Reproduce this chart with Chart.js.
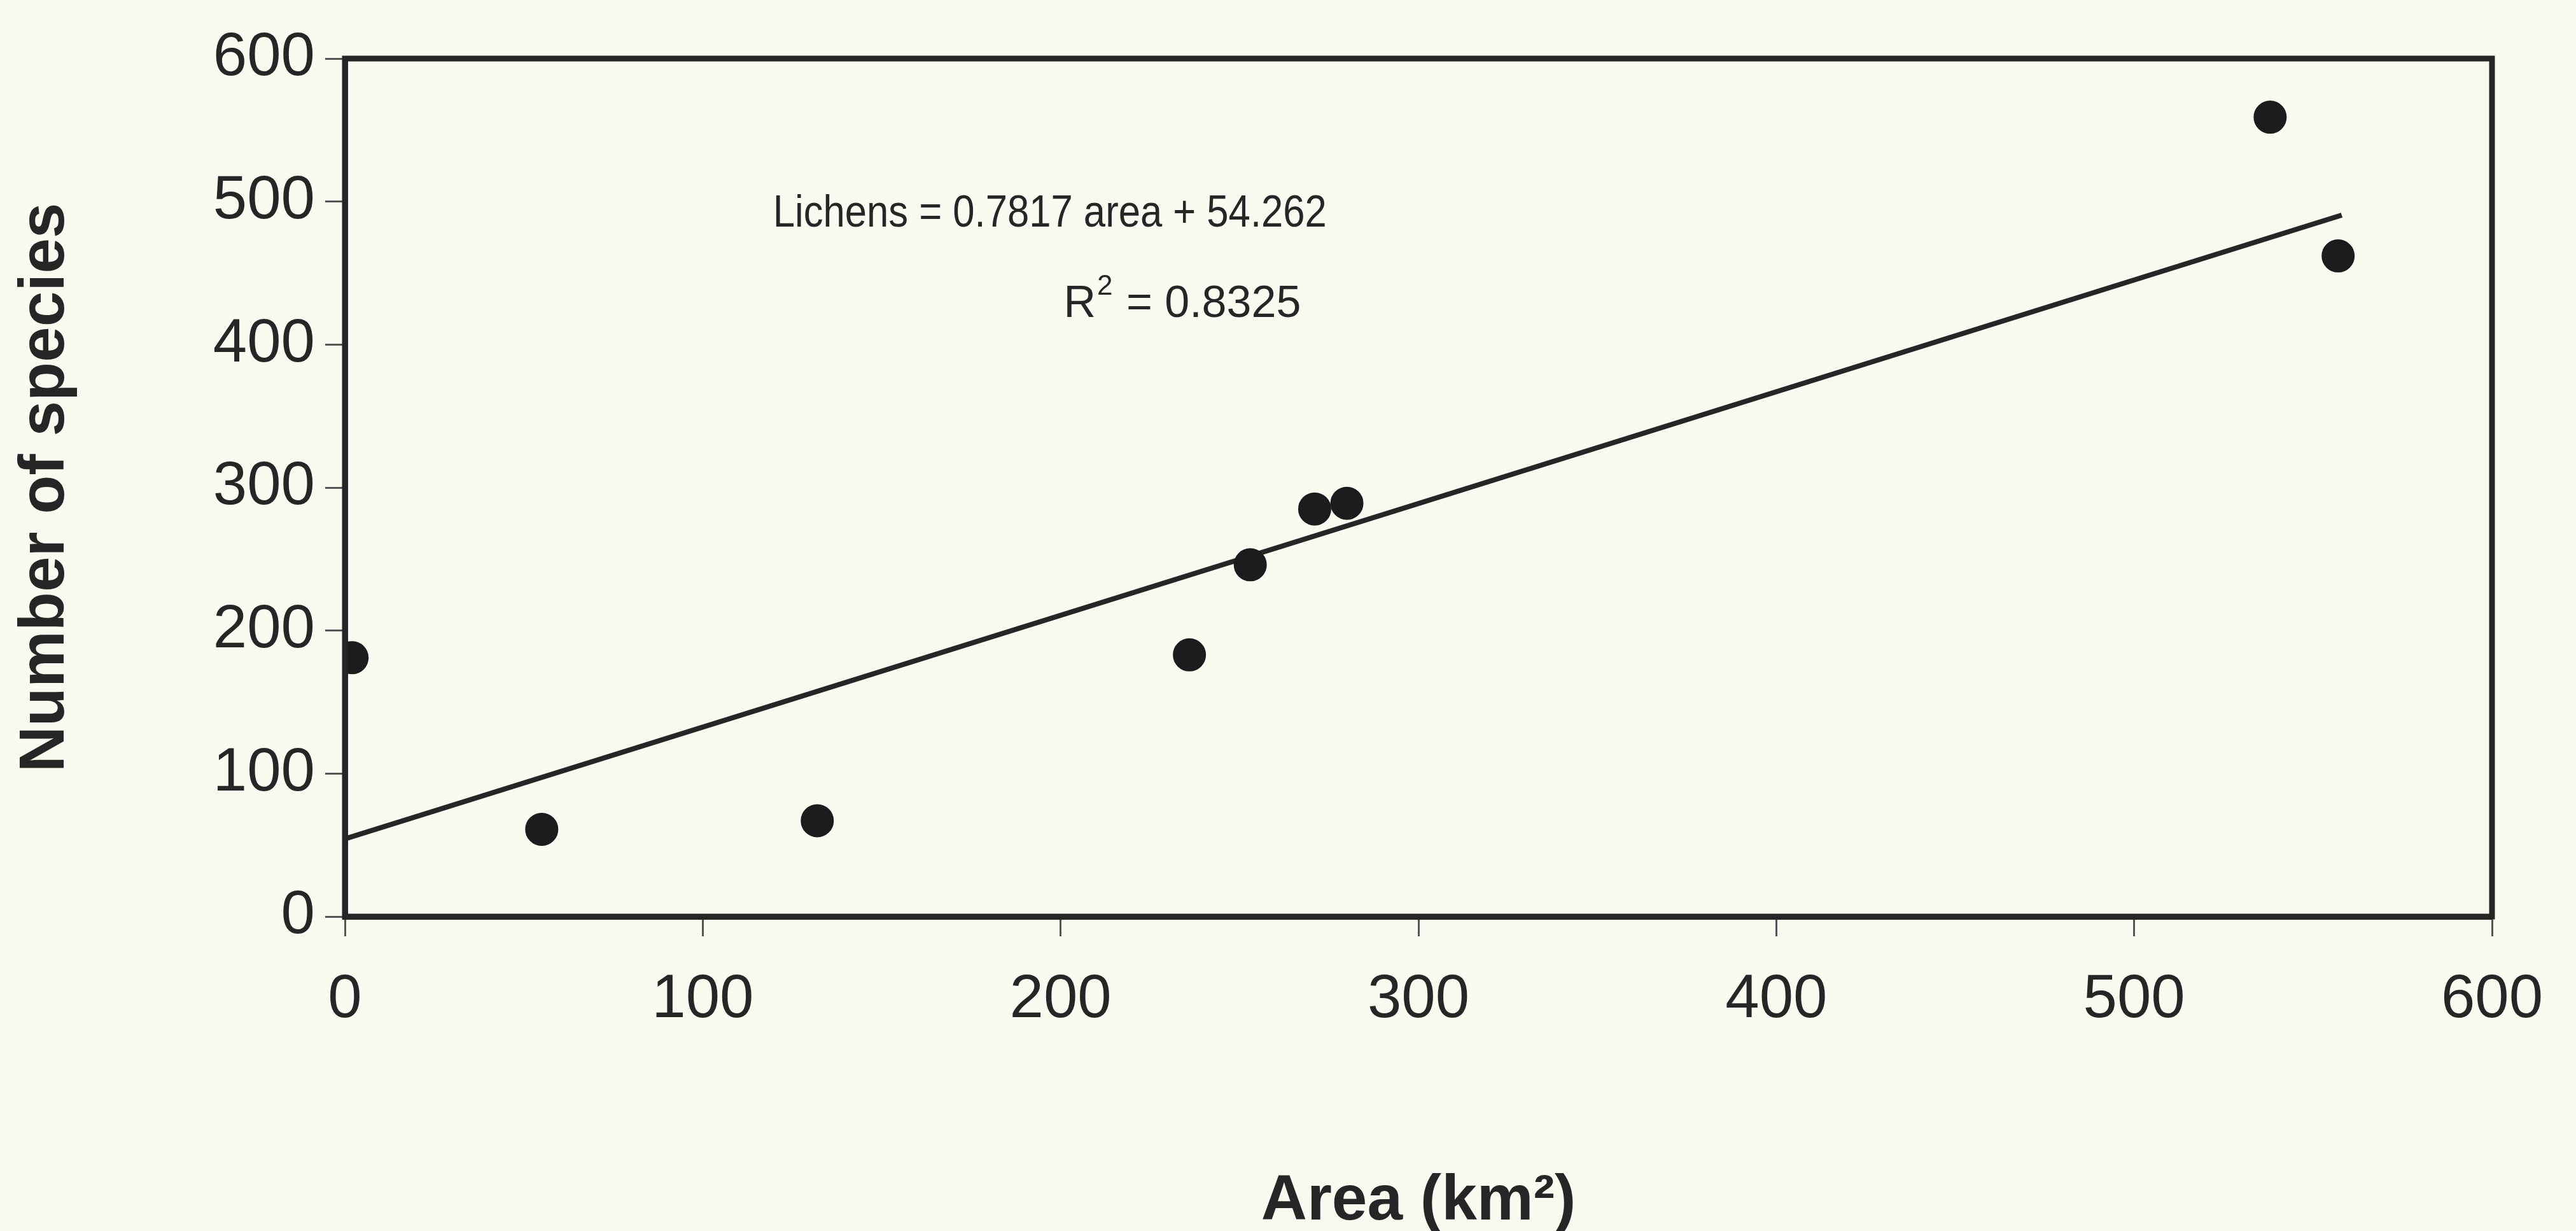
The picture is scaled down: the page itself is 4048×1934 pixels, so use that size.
<!DOCTYPE html>
<html lang="en">
<head>
    <meta charset="UTF-8">
    <title>Lichens vs area</title>
    <script src="https://cdn.jsdelivr.net/npm/chart.js"></script>
    <style>
        html, body { margin: 0; padding: 0; background: #fbfaf0; }
        #speciesChart { display: block; }
    </style>
</head>
<body>
    <canvas id="speciesChart" width="4048" height="1934"></canvas>

    <script>
        // data
        const areaKm2 = [2, 55, 132, 236, 253, 271, 280, 538, 557];
        const speciesCount = [181, 61, 67, 183, 246, 285, 289, 559, 462];

        // trendline end points (Lichens = 0.7817 area + 54.262)
        const trendArea = [0, 558];
        const trendSpecies = [54.3, 490.5];

        const axisTicks = [0, 100, 200, 300, 400, 500, 600];

        const equationText = "Lichens = 0.7817 area + 54.262";
        const r2Value = " = 0.8325";
        // where the two label lines sit, in data units
        const equationAt = { x: 197, y: 491 };
        const r2At = { x: 234, y: 428 };

        const ink = "#262626";
        const fontFamily = "'Liberation Sans', Arial, sans-serif";

        const pagePlugin = {
            id: "page",
            beforeDraw(chart) {
                const ctx = chart.ctx;
                ctx.save();
                ctx.fillStyle = "#fbfaf0";
                ctx.fillRect(0, 0, chart.width, chart.height);
                ctx.restore();
            },
            afterDatasetsDraw(chart) {
                const { ctx, chartArea: a, scales } = chart;
                // plot frame
                ctx.save();
                ctx.strokeStyle = ink;
                ctx.lineWidth = 9;
                ctx.strokeRect(a.left, a.top, a.right - a.left, a.bottom - a.top);

                ctx.fillStyle = ink;
                ctx.textBaseline = "middle";

                // equation, a bit condensed like the scan
                const ex = scales.x.getPixelForValue(equationAt.x);
                const ey = scales.y.getPixelForValue(equationAt.y);
                ctx.save();
                ctx.translate(ex, ey);
                ctx.scale(0.88, 1);
                ctx.font = "70px " + fontFamily;
                ctx.textAlign = "center";
                ctx.fillText(equationText, 0, 0);
                ctx.restore();

                // R squared with a raised 2
                const rx = scales.x.getPixelForValue(r2At.x);
                const ry = scales.y.getPixelForValue(r2At.y);
                ctx.font = "70px " + fontFamily;
                const wR = ctx.measureText("R").width;
                const wVal = ctx.measureText(r2Value).width;
                ctx.font = "44px " + fontFamily;
                const w2 = ctx.measureText("2").width + 4;
                let x0 = rx - (wR + w2 + wVal) / 2;
                ctx.textAlign = "left";
                ctx.font = "70px " + fontFamily;
                ctx.fillText("R", x0, ry);
                ctx.font = "44px " + fontFamily;
                ctx.fillText("2", x0 + wR + 2, ry - 28);
                ctx.font = "70px " + fontFamily;
                ctx.fillText(r2Value, x0 + wR + w2, ry);
                ctx.restore();
            }
        };

        const tickFont = { family: fontFamily, size: 96 };
        const titleFont = { family: fontFamily, size: 100, weight: "bold" };

        new Chart(document.getElementById("speciesChart"), {
            type: "scatter",
            data: {
                datasets: [
                    {
                        label: "Lichens",
                        data: areaKm2.map((a, i) => ({ x: a, y: speciesCount[i] })),
                        backgroundColor: "#1c1c1e",
                        borderColor: "#1c1c1e",
                        pointRadius: 25,
                        borderWidth: 2
                    },
                    {
                        label: "Trend",
                        type: "line",
                        data: trendArea.map((a, i) => ({ x: a, y: trendSpecies[i] })),
                        borderColor: ink,
                        borderWidth: 8,
                        pointRadius: 0,
                        fill: false
                    }
                ]
            },
            options: {
                responsive: false,
                devicePixelRatio: 1,
                animation: false,
                layout: { padding: { top: 92, right: 132, bottom: 0, left: 0 } },
                plugins: {
                    legend: { display: false },
                    tooltip: { enabled: false }
                },
                scales: {
                    x: {
                        type: "linear",
                        min: 0,
                        max: 600,
                        afterBuildTicks: (s) => { s.ticks = axisTicks.map(v => ({ value: v })); },
                        afterFit: (s) => { s.height = 494; },
                        ticks: { font: tickFont, color: ink, padding: 43 },
                        grid: { drawOnChartArea: false, drawTicks: true, tickLength: 31, tickWidth: 3, tickColor: "#555" },
                        border: { display: true, color: ink, width: 9 },
                        title: { display: true, text: "Area (km\u00b2)", font: titleFont, color: ink, padding: { top: 0, bottom: -14 } }
                    },
                    y: {
                        type: "linear",
                        min: 0,
                        max: 600,
                        afterBuildTicks: (s) => { s.ticks = axisTicks.map(v => ({ value: v })); },
                        afterFit: (s) => { s.width = 542; },
                        ticks: { font: tickFont, color: ink, padding: 16 },
                        grid: { drawOnChartArea: false, drawTicks: true, tickLength: 31, tickWidth: 3, tickColor: "#555" },
                        border: { display: true, color: "#272a38", width: 9 },
                        title: { display: true, text: "Number of species", font: titleFont, color: ink, padding: { top: 12, bottom: 0 } }
                    }
                }
            },
            plugins: [pagePlugin]
        });
    </script>
</body>
</html>
